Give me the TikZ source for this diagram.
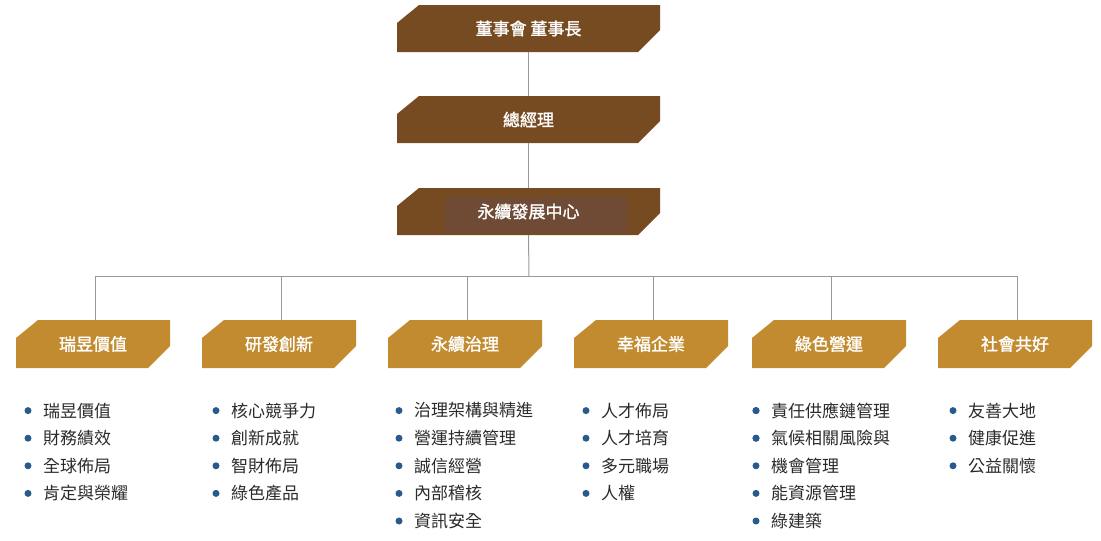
\documentclass[tikz,border=0pt]{standalone}
\usepackage{fontspec}
\newfontfamily\cjk{Noto Sans CJK TC}
\newfontfamily\cjkb{Noto Sans CJK TC}[FakeBold=1.5]
\definecolor{dkb}{HTML}{774B22}
\definecolor{inb}{HTML}{6F4A35}
\definecolor{gld}{HTML}{C38B30}
\definecolor{blt}{HTML}{285A8C}
\definecolor{txt}{HTML}{2A2A2A}
\definecolor{ln}{HTML}{999999}
\begin{document}
\begin{tikzpicture}[x=1pt,y=-1pt,
  conn/.style={draw=ln,line width=1pt},
  ttl/.style={font=\cjkb\fontsize{17}{20}\selectfont,text=white},
  itm/.style={anchor=west,font=\cjk\fontsize{17}{20}\selectfont,text=txt,inner sep=0pt}]
\useasboundingbox (0,0) rectangle (1101,541);
\newcommand{\chbox}[6]{% x1 y1 x2 y2 color name
  \fill[#5] (#1,#2+18) -- (#1+22,#2) -- (#3,#2) -- (#3,#4-22) -- (#3-22,#4) -- (#1,#4) -- cycle;
  \coordinate (#6) at ({(#1+#3)/2},{(#2+#4)/2});
  \coordinate (#6t) at ({(#1+#3)/2},#2);
  \coordinate (#6b) at ({(#1+#3)/2},#4);}
\chbox{397}{5}{660}{52}{dkb}{b1}
\chbox{397}{96}{660}{143}{dkb}{b2}
\chbox{397}{188}{660}{235}{dkb}{b3}
\fill[inb] (445,197) rectangle (627,233);
\node[ttl] at (b1) {董事會 董事長};
\node[ttl] at (b2) {總經理};
\node[ttl] at (b3) {永續發展中心};
\draw[conn] (b1b) -- (b2t);
\draw[conn] (b2b) -- (b3t);
\coordinate (hl) at (95,276);
\coordinate (hr) at (1017,276);
\draw[conn] (b3b) -- (529,276);
\draw[conn] (hl) -- (hr);
\foreach \c/\n/\t in {93/c1/瑞昱價值,279/c2/研發創新,465/c3/永續治理,651/c4/幸福企業,829/c5/綠色營運,1015/c6/社會共好}{
  \chbox{\c-77}{320}{\c+77}{368}{gld}{\n}
  \node[ttl] at (\n) {\t};
  \draw[conn] (\c+2,276) -- ([xshift=2pt]\n t);
}
\newcommand{\litems}[2]{%
  \foreach \s [count=\i] in {#2}{
    \fill[blt] (#1,{383+27.6*\i}) circle (3.5);
    \node[itm] at (#1+15,{383+27.6*\i}) {\s};
  }}
\litems{28}{瑞昱價值,財務績效,全球佈局,肯定與榮耀}
\litems{216}{核心競爭力,創新成就,智財佈局,綠色產品}
\litems{399}{治理架構與精進,營運持續管理,誠信經營,內部稽核,資訊安全}
\litems{586}{人才佈局,人才培育,多元職場,人權}
\litems{756}{責任供應鏈管理,氣候相關風險與}
\node[itm] at (771,{383+27.6*3}) {機會管理};
\litems{756}{{},{},{},能資源管理,綠建築}
\litems{953}{友善大地,健康促進,公益關懷}
\end{tikzpicture}
\end{document}
